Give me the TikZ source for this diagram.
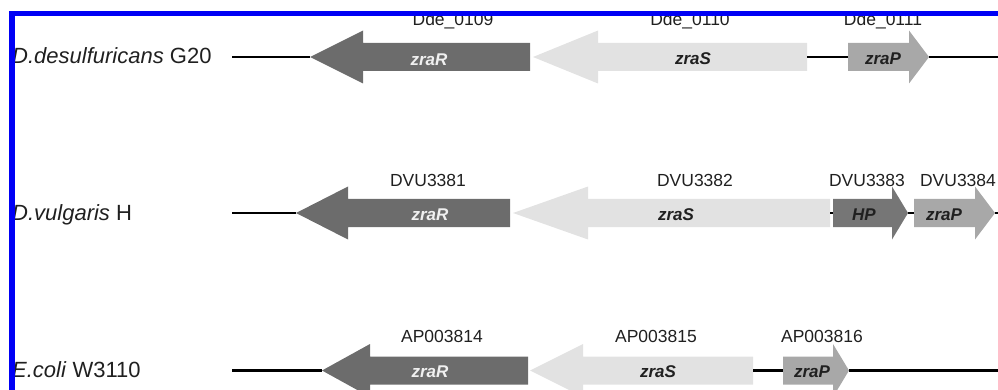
\documentclass[tikz,border=0pt]{standalone}
\usepackage{fontspec}
\setmainfont{Liberation Sans}
\definecolor{regR}{HTML}{6C6C6C}
\definecolor{kinS}{HTML}{E2E2E2}
\definecolor{perP}{HTML}{A8A8A8}
\definecolor{hypo}{HTML}{767676}
\definecolor{frameblue}{HTML}{0000F5}
\definecolor{inkgray}{HTML}{202020}

% gene arrow: name, tail x, head-base x, tip x, axis y, colour
\newcommand{\genearrow}[6]{%
  \fill[#6] (#2,#5-14) -- (#3,#5-14) -- (#3,#5-26.5) -- (#4,#5)
    -- (#3,#5+26.5) -- (#3,#5+14) -- (#2,#5+14) -- cycle;
  \coordinate (#1-tail) at (#2,#5);
  \coordinate (#1-tip) at (#4,#5);
}

\tikzset{
  backbone/.style={line width=2.7pt, black},
  species/.style={anchor=base west, inner sep=0pt, text=inkgray,
    font=\fontsize{22}{24}\selectfont},
  geneid/.style={anchor=base, inner sep=0pt, text=inkgray,
    font=\fontsize{17.5}{20}\selectfont},
  genename/.style={anchor=base, inner sep=0pt, text=inkgray,
    font=\fontsize{17}{20}\selectfont\bfseries\itshape},
  lightname/.style={genename, text=white!94!black},
}

\begin{document}
\begin{tikzpicture}[x=1pt, y=-1pt]
\useasboundingbox (0,0) rectangle (998,390);

\begin{scope}
\clip (15,16) rectangle (998,390);

% ---- D. desulfuricans G20 ----
\coordinate (r1a) at (232,57);
\coordinate (r1z) at (998,57);
\genearrow{r1R}{530}{363}{310}{57}{regR}
\genearrow{r1S}{807}{598}{533}{57}{kinS}
\genearrow{r1P}{848}{909}{929}{57}{perP}
\draw[backbone] (r1a) -- (r1R-tip);
\draw[backbone] (r1S-tail) -- (r1P-tail);
\draw[backbone] (r1P-tip) -- (r1z);
\node[species] (sp1) at (12,64) {\textit{D.desulfuricans} G20};
\node[geneid] (id1R) at (453,26) {Dde\_0109};
\node[geneid] (id1S) at (690,26) {Dde\_0110};
\node[geneid] (id1P) at (883,26) {Dde\_0111};
\node[lightname] (n1R) at (429,65.5) {zraR};
\node[genename] (n1S) at (693,65) {zraS};
\node[genename] (n1P) at (883,65) {zraP};

% ---- D. vulgaris H ----
\coordinate (r2a) at (232,213);
\coordinate (r2z) at (998,213);
\genearrow{r2R}{510}{348}{296}{213}{regR}
\genearrow{r2S}{830}{588}{513}{213}{kinS}
\genearrow{r2H}{833}{892}{908}{213}{hypo}
\genearrow{r2P}{914}{975}{995}{213}{perP}
\draw[backbone] (r2a) -- (r2R-tip);
\draw[backbone] (r2S-tail) -- (r2H-tail);
\draw[backbone] (r2H-tip) -- (r2P-tail);
\draw[backbone] (r2P-tip) -- (r2z);
\node[species] (sp2) at (12,221) {\textit{D.vulgaris} H};
\node[geneid] (id2R) at (428,186.7) {DVU3381};
\node[geneid] (id2S) at (695,186.7) {DVU3382};
\node[geneid] (id2H) at (867,186.7) {DVU3383};
\node[geneid] (id2P) at (958,186.7) {DVU3384};
\node[lightname] (n2R) at (430,221) {zraR};
\node[genename] (n2S) at (676,220.5) {zraS};
\node[genename] (n2H) at (864,220.5) {HP};
\node[genename] (n2P) at (944,220.5) {zraP};

% ---- E. coli W3110 ----
\coordinate (r3a) at (232,370.5);
\coordinate (r3z) at (998,370.5);
\genearrow{r3R}{528}{370}{322}{370.5}{regR}
\genearrow{r3S}{753}{583}{530}{370.5}{kinS}
\genearrow{r3P}{783}{833}{849}{370.5}{perP}
\draw[backbone] (r3a) -- (r3R-tip);
\draw[backbone] (r3S-tail) -- (r3P-tail);
\draw[backbone] (r3P-tip) -- (r3z);
\node[species] (sp3) at (12,377) {\textit{E.coli} W3110};
\node[geneid] (id3R) at (442,342.7) {AP003814};
\node[geneid] (id3S) at (656,342.7) {AP003815};
\node[geneid] (id3P) at (822,342.7) {AP003816};
\node[lightname] (n3R) at (430,377) {zraR};
\node[genename] (n3S) at (658,377) {zraS};
\node[genename] (n3P) at (812,377) {zraP};
\end{scope}

% frame edges
\fill[frameblue] (9,11) rectangle (998,16);
\fill[frameblue] (9,11) rectangle (15,390);
\end{tikzpicture}
\end{document}
